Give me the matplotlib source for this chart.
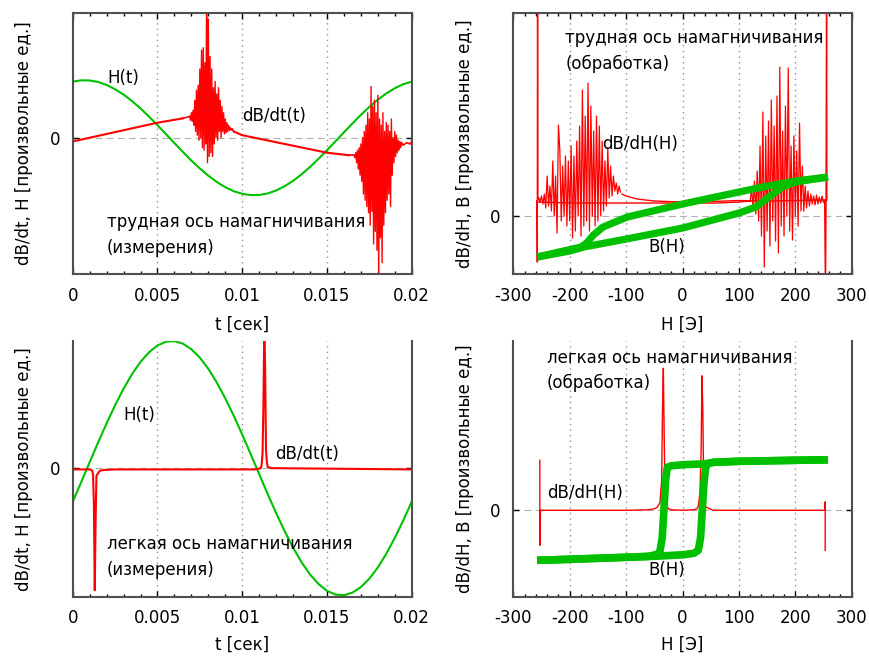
import matplotlib
matplotlib.use("Agg")
import matplotlib.pyplot as plt
from matplotlib.ticker import MultipleLocator
import numpy as np

plt.rcParams['font.family'] = ['DejaVu Sans']
plt.rcParams['axes.unicode_minus'] = False

RED = '#ff0000'
GREEN = '#00c000'
FRAME = '#505050'

# ---- hard axis: measured signals vs time ----
t_h = np.linspace(0, 0.02, 41)
h_hard = [0.449, 0.459, 0.458, 0.446, 0.422, 0.388, 0.345, 0.293, 0.234, 0.169,
          0.100, 0.029, -0.043, -0.114, -0.183, -0.246, -0.304, -0.354, -0.396, -0.428,
          -0.449, -0.459, -0.458, -0.446, -0.422, -0.388, -0.345, -0.293, -0.234, -0.169,
          -0.100, -0.029, 0.043, 0.114, 0.183, 0.246, 0.304, 0.354, 0.396, 0.428, 0.449]

# dB/dt baseline and the two noisy switching bursts
t_base1 = [0.0, 0.005, 0.0065]
db_base1 = [-0.03, 0.12, 0.155]
db_burst1 = [0.17, 0.14, 0.20, 0.13, 0.22, 0.10, 0.30, 0.05, 0.38, 0.02,
             0.42, -0.02, 0.55, 0.00, 0.70, -0.08, 0.72, -0.10, 0.60, -0.05,
             1.15, -0.20, 0.95, -0.15, 0.65, -0.12, 0.55, -0.15, 0.40, -0.05,
             0.45, 0.00, 0.35, -0.02, 0.40, 0.05, 0.30, 0.00, 0.25, 0.05,
             0.20, 0.03, 0.15, 0.04, 0.12, 0.05, 0.10, 0.06, 0.08, 0.06, 0.07]
t_burst1 = np.linspace(0.0069, 0.0094, len(db_burst1))
t_base2 = [0.0095, 0.010, 0.015, 0.0163]
db_base2 = [0.05, 0.02, -0.12, -0.14]
db_burst2 = [-0.14, -0.16, -0.12, -0.20, -0.10, -0.25, -0.08, -0.30, -0.05, -0.35,
             0.00, -0.45, 0.05, -0.50, 0.10, -0.55, 0.20, -0.60, 0.15, -0.70,
             0.41, -0.59, 0.25, -0.85, 0.30, -0.75, 0.20, -0.90, 0.34, -1.15,
             0.15, -0.80, 0.10, -1.00, 0.20, -0.70, 0.05, -0.60, 0.12, -0.50,
             0.10, -0.45, 0.05, -0.55, 0.15, -0.30, 0.00, -0.20, 0.05, -0.15,
             0.02, -0.12, -0.02, -0.10, -0.03, -0.08, -0.04]
t_burst2 = np.linspace(0.0166, 0.0194, len(db_burst2))
t_tail = [0.0195, 0.0197, 0.0199, 0.020]
db_tail = [-0.06, -0.04, -0.05, -0.03]

# ---- hard axis: processed loop ----
H_up = [-258, -200, -175, -100, 0, 100, 130, 153, 177, 200, 258]
B_up = [-0.41, -0.35, -0.31, -0.23, -0.12, 0.03, 0.09, 0.19, 0.29, 0.34, 0.39]
H_down = [258, 200, 142, 100, 0, -98, -141, -158, -170, -180, -258]
B_down = [0.39, 0.35, 0.29, 0.24, 0.12, -0.01, -0.11, -0.19, -0.27, -0.31, -0.41]

H_flat_up = [-258, -256, -200, -100, 0, 60, 100, 117.5]
dbdh_flat_up = [0.15, 0.14, 0.13, 0.13, 0.13, 0.13, 0.14, 0.15]
dbdh_burst_up = [0.15, 0.28, 0.08, 0.35, 0.02, 0.45, -0.05, 0.70, -0.20, 1.04,
                 -0.51, 0.80, -0.15, 0.95, -0.30, 1.16, -0.05, 0.90, -0.25, 1.20,
                 -0.37, 1.49, -0.10, 0.85, -0.20, 1.10, 0.00, 1.48, -0.15, 0.70,
                 -0.24, 0.80, 0.00, 0.65, -0.10, 0.93, 0.05, 0.50, 0.05, 0.30,
                 0.08, 0.25, 0.10, 0.22, 0.12, 0.20, 0.11, 0.21, 0.12, 0.19,
                 0.13, 0.20, 0.14]
H_burst_up = np.linspace(120, 250, len(dbdh_burst_up))
H_turn_right = [252, 253.5, 254.5, 255.5, 256]
dbdh_turn_right = [0.16, -0.8, 0.16, 2.5, 0.16]
H_flat_down = [254, 250, 200, 150, 100, 50, 0, -50, -80, -100, -107.5]
dbdh_flat_down = [0.16, 0.16, 0.155, 0.15, 0.155, 0.145, 0.14, 0.15, 0.17, 0.20, 0.22]
dbdh_burst_down = [0.24, 0.30, 0.22, 0.33, 0.25, 0.40, 0.20, 0.50, 0.18, 0.68,
                   0.10, 0.55, 0.05, 0.75, 0.00, 0.90, -0.05, 1.00, -0.10, 0.85,
                   0.00, 1.10, -0.15, 1.33, -0.05, 1.00, -0.10, 1.26, -0.20, 0.90,
                   0.00, 0.75, -0.15, 0.60, -0.22, 0.70, -0.05, 0.55, -0.10, 0.60,
                   0.00, 0.50, -0.05, 0.65, 0.91, -0.17, 0.40, 0.00, 0.55, 0.05,
                   0.30, 0.10, 0.40, 0.08, 0.22, 0.12, 0.20, 0.14, 0.18]
H_burst_down = np.linspace(-110, -255, len(dbdh_burst_down))
H_turn_left = [-256.5, -257, -257.5, -258]
dbdh_turn_left = [0.16, 2.3, -0.46, 0.15]

# ---- easy axis: measured signals vs time ----
h_easy = [-0.264, -0.110, 0.047, 0.203, 0.353, 0.495, 0.625, 0.740, 0.836, 0.911,
          0.965, 0.994, 0.999, 0.979, 0.935, 0.869, 0.781, 0.673, 0.549, 0.412,
          0.264, 0.110, -0.047, -0.203, -0.353, -0.495, -0.625, -0.740, -0.836, -0.911,
          -0.965, -0.994, -0.999, -0.979, -0.935, -0.869, -0.781, -0.673, -0.549, -0.412,
          -0.264]
t_easy_db = [0, 0.001, 0.00115, 0.0012, 0.00125, 0.0013, 0.00135, 0.0014, 0.0015, 0.0016,
             0.0018, 0.0025, 0.0108, 0.0111, 0.01115, 0.0112, 0.01125, 0.0113, 0.01135, 0.0114,
             0.01145, 0.0115, 0.0117, 0.02]
db_easy = [-0.01, -0.01, -0.02, -0.05, -0.30, -0.96, -0.40, -0.06, -0.04, -0.02,
           -0.015, -0.01, -0.01, 0.0, 0.03, 0.12, 0.50, 1.10, 0.80, 0.15,
           0.05, 0.01, 0.0, -0.01]

# ---- easy axis: processed loop ----
He_up = [-258, -200, -100, -50, 0, 20, 28, 32, 35, 38, 41, 45, 55, 100, 200, 258]
Be_up = [-1.00, -0.98, -0.94, -0.92, -0.89, -0.86, -0.80, -0.55, 0.00, 0.55,
         0.85, 0.93, 0.96, 0.98, 1.00, 1.01]
He_down = [258, 200, 100, 55, 40, 0, -20, -27, -30, -33, -36, -40, -45, -60, -100, -200, -258]
Be_down = [1.01, 1.00, 0.98, 0.96, 0.93, 0.91, 0.89, 0.86, 0.60, 0.00,
           -0.55, -0.82, -0.88, -0.92, -0.94, -0.98, -1.00]
He_db = [-253, -253, -252, -100, -60, -50, -45, -40, -37, -35.5,
         -34, -32.5, -31, -28, -25, -20, 0, 20, 25, 28,
         31, 33, 34.5, 36, 37.5, 39, 42, 48, 55, 100,
         252, 253, 253]
dbdh_easy = [1.0, -0.7, 0.0, 0.0, 0.01, 0.03, 0.06, 0.15, 0.6, 2.0,
             2.84, 1.5, 0.4, 0.1, 0.03, 0.01, 0.0, 0.01, 0.03, 0.08,
             0.35, 1.2, 2.69, 2.0, 0.5, 0.12, 0.06, 0.03, 0.0, 0.0,
             0.0, 0.17, -0.8]


def style_axes(ax, top_frame=True):
    for side in ['left', 'right', 'bottom', 'top']:
        ax.spines[side].set_color(FRAME)
        ax.spines[side].set_linewidth(1.5)
    ax.spines['top'].set_visible(top_frame)
    ax.set_yticks([0])
    ax.set_yticklabels(['0'])
    ax.tick_params(axis='x', which='both', direction='in', top=top_frame, color='black')
    ax.tick_params(axis='y', which='both', direction='in', right=True, color='black')
    ax.tick_params(which='major', length=4, width=1, labelsize=12, pad=9)
    ax.tick_params(which='minor', length=2, width=1)
    ax.axhline(0, color='#b0b0b0', lw=0.8, ls=(0, (6, 4)), zorder=0)
    for x in ax.get_xticks()[1:-1]:
        ax.axvline(x, color='#909090', lw=1, ls=(0, (1, 3)), zorder=0)


fig = plt.figure(figsize=(8.69, 6.56), dpi=100)
ax1 = fig.add_axes([0.0837, 0.5818, 0.3901, 0.3988])
ax2 = fig.add_axes([0.5907, 0.5818, 0.3894, 0.3988])
ax3 = fig.add_axes([0.0837, 0.0904, 0.3901, 0.3898])
ax4 = fig.add_axes([0.5907, 0.0904, 0.3894, 0.3898])

# top left: hard axis, raw signals
ax1.set_xlim(0, 0.02)
ax1.set_ylim(-1.093, 1.0)
ax1.set_xticks([0, 0.005, 0.01, 0.015, 0.02])
ax1.set_xticklabels(['0', '0.005', '0.01', '0.015', '0.02'])
ax1.xaxis.set_minor_locator(MultipleLocator(0.001))
style_axes(ax1)
ax1.plot(t_h, h_hard, color=GREEN, lw=1.5)
ax1.plot(t_base1, db_base1, color=RED, lw=1.5)
ax1.plot(t_burst1, db_burst1, color=RED, lw=1.0)
ax1.plot([0.0065, 0.0069], [0.155, 0.17], color=RED, lw=1.2)
ax1.plot(t_base2, db_base2, color=RED, lw=1.5)
ax1.plot([0.0094, 0.0095], [0.07, 0.05], color=RED, lw=1.2)
ax1.plot([0.0163, 0.0166], [-0.14, -0.14], color=RED, lw=1.2)
ax1.plot(t_burst2, db_burst2, color=RED, lw=1.0)
ax1.plot([0.0194] + t_tail, [-0.04] + db_tail, color=RED, lw=1.2)
ax1.text(0.00202, 0.48, 'H(t)', fontsize=12, va='center')
ax1.text(0.0100, 0.175, 'dB/dt(t)', fontsize=12, va='center')
ax1.text(0.00202, -0.675, 'трудная ось намагничивания', fontsize=12, va='center')
ax1.text(0.00202, -0.88, '(измерения)', fontsize=12, va='center')
ax1.set_xlabel('t [сек]', fontsize=12, labelpad=8)
ax1.set_ylabel('dB/dt, H [произвольные ед.]', fontsize=12, labelpad=12)

# top right: hard axis, processed
ax2.set_xlim(-300, 300)
ax2.set_ylim(-0.583, 2.033)
ax2.set_xticks([-300, -200, -100, 0, 100, 200, 300])
ax2.xaxis.set_minor_locator(MultipleLocator(20))
style_axes(ax2)
ax2.plot(H_flat_up, dbdh_flat_up, color=RED, lw=1.0)
ax2.plot([117.5, 120], [0.15, 0.15], color=RED, lw=1.0)
ax2.plot(H_burst_up, dbdh_burst_up, color=RED, lw=0.9)
ax2.plot([250] + H_turn_right, [0.14] + dbdh_turn_right, color=RED, lw=1.0)
ax2.plot(H_flat_down, dbdh_flat_down, color=RED, lw=1.0)
ax2.plot(H_burst_down, dbdh_burst_down, color=RED, lw=0.9)
ax2.plot([-255] + H_turn_left, [0.18] + dbdh_turn_left, color=RED, lw=1.0)
ax2.plot(H_up, B_up, color=GREEN, lw=5.2, solid_capstyle='butt')
ax2.plot(H_down, B_down, color=GREEN, lw=5.2, solid_capstyle='butt')
ax2.text(-208, 1.78, 'трудная ось намагничивания', fontsize=12, va='center')
ax2.text(-208, 1.52, '(обработка)', fontsize=12, va='center')
ax2.text(-143, 0.72, 'dB/dH(H)', fontsize=12, va='center')
ax2.text(-61, -0.31, 'B(H)', fontsize=12, va='center')
ax2.set_xlabel('H [Э]', fontsize=12, labelpad=8)
ax2.set_ylabel('dB/dH, B [произвольные ед.]', fontsize=12, labelpad=12)

# bottom left: easy axis, raw signals
ax3.set_xlim(0, 0.02)
ax3.set_ylim(-1.011, 1.0)
ax3.set_xticks([0, 0.005, 0.01, 0.015, 0.02])
ax3.set_xticklabels(['0', '0.005', '0.01', '0.015', '0.02'])
ax3.xaxis.set_minor_locator(MultipleLocator(0.001))
style_axes(ax3, top_frame=False)
ax3.plot(t_h, h_easy, color=GREEN, lw=1.5)
ax3.plot(t_easy_db, db_easy, color=RED, lw=1.5)
ax3.text(0.00299, 0.42, 'H(t)', fontsize=12, va='center')
ax3.text(0.01194, 0.113, 'dB/dt(t)', fontsize=12, va='center')
ax3.text(0.0020, -0.60, 'легкая ось намагничивания', fontsize=12, va='center')
ax3.text(0.0020, -0.80, '(измерения)', fontsize=12, va='center')
ax3.set_xlabel('t [сек]', fontsize=12, labelpad=6)
ax3.set_ylabel('dB/dt, H [произвольные ед.]', fontsize=12, labelpad=12)

# bottom right: easy axis, processed
ax4.set_xlim(-300, 300)
ax4.set_ylim(-1.728, 3.386)
ax4.set_xticks([-300, -200, -100, 0, 100, 200, 300])
ax4.xaxis.set_minor_locator(MultipleLocator(20))
style_axes(ax4, top_frame=False)
ax4.plot(He_db, dbdh_easy, color=RED, lw=1.0)
ax4.plot(He_up, Be_up, color=GREEN, lw=5.5, solid_capstyle='butt')
ax4.plot(He_down, Be_down, color=GREEN, lw=5.5, solid_capstyle='butt')
ax4.text(-241, 3.04, 'легкая ось намагничивания', fontsize=12, va='center')
ax4.text(-241, 2.54, '(обработка)', fontsize=12, va='center')
ax4.text(-240, 0.34, 'dB/dH(H)', fontsize=12, va='center')
ax4.text(-61, -1.19, 'B(H)', fontsize=12, va='center')
ax4.set_xlabel('H [Э]', fontsize=12, labelpad=6)
ax4.set_ylabel('dB/dH, B [произвольные ед.]', fontsize=12, labelpad=12)

fig.savefig('out.png', dpi=100)
